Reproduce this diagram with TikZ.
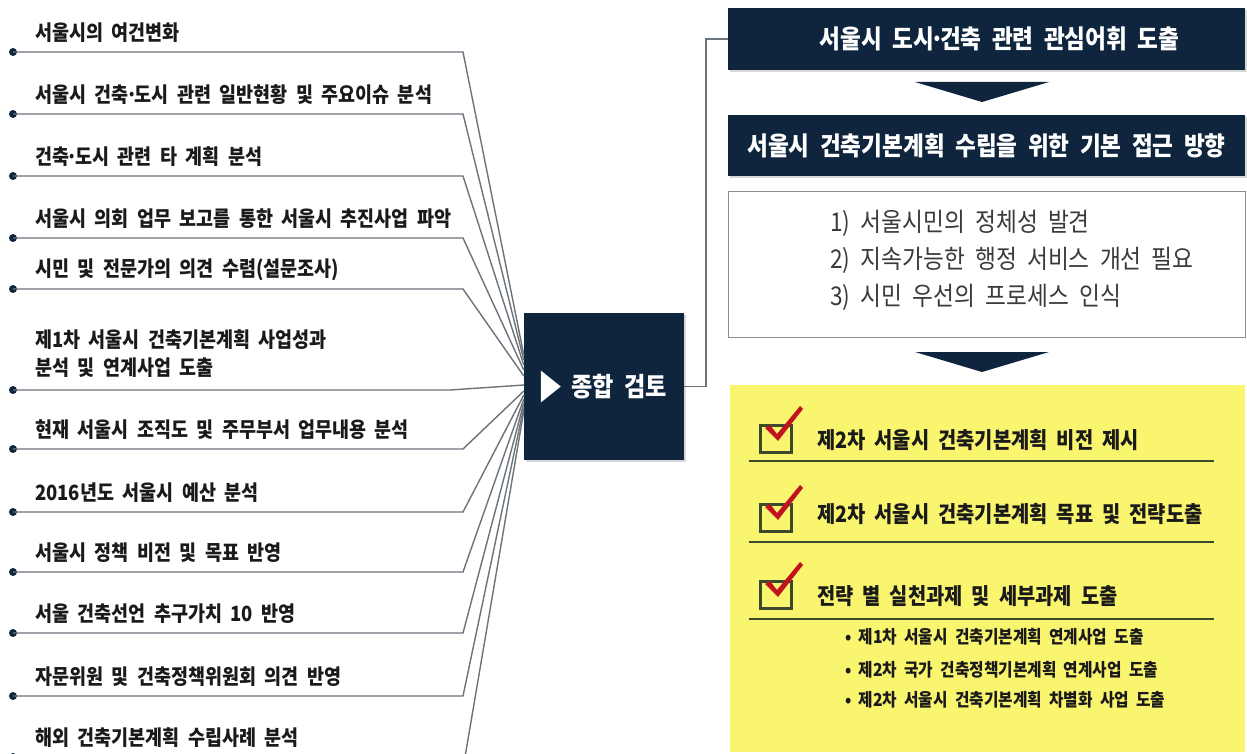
\documentclass[tikz,border=0pt]{standalone}
\usepackage{fontspec}
\setmainfont{Noto Sans CJK KR}
\newfontfamily\kr[FakeStretch=0.88,WordSpace=2]{Noto Sans CJK KR}
\newcommand\mdot{\makebox[6pt][c]{·}}
\usetikzlibrary{calc,shadows}
\definecolor{navy}{HTML}{0E253D}
\definecolor{lgray}{HTML}{6B737B}
\definecolor{txt}{HTML}{1A1A1A}
\definecolor{ntxt}{HTML}{3A3A3A}
\definecolor{yel}{HTML}{FAF56E}
\definecolor{chk}{HTML}{C1121F}
\definecolor{olive}{HTML}{3B4A2C}
\definecolor{bord}{HTML}{8C8C8C}
\begin{document}
\begin{tikzpicture}[x=1pt,y=-1pt,
  ltext/.style={anchor=west, inner sep=0pt, align=left, text=txt, font=\kr\bfseries\fontsize{21}{28}\selectfont},
  dot/.style={circle, fill=navy, inner sep=0pt, minimum size=8pt},
  conn/.style={draw=lgray, line width=1.4pt},
  conn2/.style={draw=lgray, line width=1.1pt},
  hbox/.style={fill=navy, text=white, inner sep=0pt, minimum width=517pt, minimum height=62pt,
     font=\kr\bfseries\fontsize{25.7}{28}\selectfont,
     drop shadow={shadow xshift=1.5pt, shadow yshift=-2pt, opacity=0.3, fill=gray}},
  wbox/.style={draw=bord, line width=1pt, fill=white, minimum width=517pt, minimum height=146pt, inner sep=0pt},
  ntext/.style={anchor=west, inner sep=0pt, text=ntxt, font=\kr\fontsize{25.8}{28}\selectfont},
  rbox/.style={fill=navy, minimum width=160pt, minimum height=147pt, inner sep=0pt,
     drop shadow={shadow xshift=1.5pt, shadow yshift=-2pt, opacity=0.3, fill=gray}},
  ybox/.style={fill=yel, minimum width=515pt, minimum height=367pt, inner sep=0pt},
  cbox/.style={draw=olive, line width=2.4pt, minimum width=31pt, minimum height=27pt, inner sep=0pt},
  ytext/.style={anchor=west, inner sep=0pt, text=txt, font=\kr\bfseries\fontsize{22.5}{24}\selectfont},
  btext/.style={anchor=west, inner sep=0pt, text=txt, font=\kr\bfseries\fontsize{17.9}{20}\selectfont},
  uline/.style={draw=olive, line width=2.6pt},
  chev/.style={fill=navy}
]
\useasboundingbox (0,0) rectangle (1247,754);
\fill[white] (0,0) rectangle (1247,754);

% center box
\node[rbox] (rev) at (604,386.5) {};
\fill[white, shift={(rev.west)}] (17,-16) -- (37,0) -- (17,16) -- cycle;
\node[anchor=west, inner sep=0pt, text=white, font=\kr\bfseries\fontsize{26.3}{28}\selectfont] (revt) at (571,387) {종합 검토};

% left list
\foreach \i/\y/\bx/\e/\t in {
  1/52/463/355/{서울시의 여건변화},
  2/114/463/360/{서울시 건축\mdot 도시 관련 일반현황 및 주요이슈 분석},
  3/176/463/365/{건축\mdot 도시 관련 타 계획 분석},
  4/238/463/370/{서울시 의회 업무 보고를 통한 서울시 추진사업 파악},
  5/289/463/376/{시민 및 전문가의 의견 수렴(설문조사)},
  7/449/463/391/{현재 서울시 조직도 및 주무부서 업무내용 분석},
  8/512/463/395/{2016년도 서울시 예산 분석},
  9/572/463/399/{서울시 정책 비전 및 목표 반영},
  10/633/463/403/{서울 건축선언 추구가치 10 반영},
  11/696/463/407/{자문위원 및 건축정책위원회 의견 반영},
  12/757/465/411/{해외 건축기본계획 수립사례 분석}}
{
  \node[dot] (d\i) at (13,\y) {};
  \node[ltext] (l\i) at (35,\y-19) {\t};
  \coordinate (b\i) at (\bx,\y);
  \coordinate (e\i) at ($(rev.west)+(0,\e-386.5)$);
  \draw[conn] (d\i.center) -- (b\i) -- (e\i);
}
\node[dot] (d6) at (13,390) {};
\node[ltext] (l6) at (35,354) {제1차 서울시 건축기본계획 사업성과\\분석 및 연계사업 도출};
\coordinate (b6) at (450,390);
\coordinate (e6) at ($(rev.west)+(0,385-386.5)$);
\draw[conn] (d6.center) -- (b6) -- (e6);

% right column
\node[hbox] (h1) at (986.5,39) {\hspace*{26pt}서울시 도시\mdot 건축 관련 관심어휘 도출};
\fill[chev] (915,82) -- (1049,82) -- (982,102) -- cycle;
\node[hbox, minimum height=61pt] (h2) at (986.5,145.5) {서울시 건축기본계획 수립을 위한 기본 접근 방향};
\node[wbox] (wb) at (986.5,264.5) {};
\node[ntext] (n1) at (830,223) {1) 서울시민의 정체성 발견};
\node[ntext] (n2) at (830,260) {2) 지속가능한 행정 서비스 개선 필요};
\node[ntext] (n3) at (830,297) {3) 시민 우선의 프로세스 인식};
\fill[chev] (915,352) -- (1049,352) -- (982,372) -- cycle;

\coordinate (jn) at (706,0);
\draw[conn2] (rev.east) -- (rev.east -| jn) |- (h1.west);

% yellow box
\node[ybox] (yb) at (987.5,568.5) {};
\foreach \j/\cy/\ty/\uy/\t in {
  1/439/440/461/{제2차 서울시 건축기본계획 비전 제시},
  2/518/514/542/{제2차 서울시 건축기본계획 목표 및 전략도출},
  3/595/596/619/{전략 별 실천과제 및 세부과제 도출}}
{
  \node[cbox] (c\j) at (776,\cy) {};
  \fill[chk, shift={(c\j.center)}] (-11,-11) -- (-6,-14) -- (1,-5) -- (24,-33) -- (27,-30) -- (2,2) -- cycle;
  \node[ytext] (y\j) at (817,\ty) {\t};
  \draw[uline] (749,\uy) -- (1214,\uy);
}
\node[btext] (s1) at (845,637) {• 제1차 서울시 건축기본계획 연계사업 도출};
\node[btext] (s2) at (845,670) {• 제2차 국가 건축정책기본계획 연계사업 도출};
\node[btext] (s3) at (845,700) {• 제2차 서울시 건축기본계획 차별화 사업 도출};
\end{tikzpicture}
\end{document}
